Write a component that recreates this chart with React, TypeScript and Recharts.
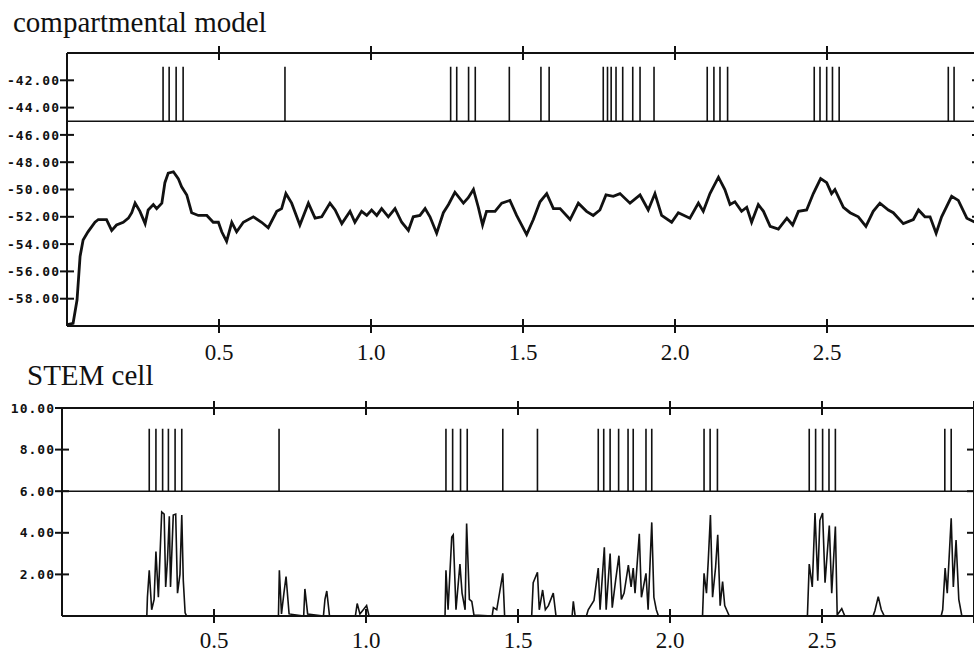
import { LineChart, Line, XAxis, YAxis } from "recharts";

// spike times (s)
const compartmentSpikes = [
  0.316, 0.336, 0.359, 0.382, 0.717, 1.262, 1.282, 1.321, 1.343, 1.455, 1.559, 1.586,
  1.764, 1.778, 1.79, 1.806, 1.828, 1.861, 1.885, 1.931, 2.106, 2.128, 2.148, 2.173,
  2.458, 2.477, 2.499, 2.518, 2.54, 2.899, 2.918,
];
const stemSpikes = [
  0.287, 0.309, 0.331, 0.35, 0.372, 0.394, 0.714, 1.263, 1.285, 1.311, 1.333, 1.45, 1.564,
  1.764, 1.782, 1.803, 1.831, 1.862, 1.879, 1.921, 1.94, 2.112, 2.132, 2.156,
  2.458, 2.479, 2.502, 2.523, 2.544, 2.904, 2.925,
];

// membrane potential, compartmental model (mV)
const compartmentTrace: [number, number][] = [
  [0, -59.9], [0.02, -59.8], [0.033, -58.1], [0.043, -54.9], [0.053, -53.7], [0.069, -53.1],
  [0.092, -52.4], [0.103, -52.2], [0.13, -52.2], [0.147, -53.0], [0.163, -52.6], [0.185, -52.4],
  [0.202, -52.1], [0.213, -51.7], [0.224, -51.0], [0.24, -51.6], [0.257, -52.5], [0.267, -51.5],
  [0.284, -51.1], [0.295, -51.4], [0.312, -51.0], [0.322, -49.5], [0.333, -48.8], [0.35, -48.7],
  [0.366, -49.2], [0.377, -49.8], [0.394, -50.4], [0.41, -51.7], [0.432, -51.9], [0.46, -51.9],
  [0.481, -52.4], [0.498, -52.4], [0.509, -53.1], [0.525, -53.8], [0.542, -52.4], [0.558, -53.1],
  [0.58, -52.4], [0.613, -52.0], [0.64, -52.4], [0.662, -52.8], [0.69, -51.6], [0.706, -51.4],
  [0.72, -50.3], [0.739, -51.0], [0.766, -52.6], [0.794, -51.0], [0.816, -52.1], [0.838, -52.0],
  [0.865, -51.0], [0.882, -51.5], [0.904, -52.5], [0.931, -51.6], [0.947, -52.4], [0.969, -51.6],
  [0.986, -51.9], [1.002, -51.5], [1.019, -51.9], [1.035, -51.4], [1.057, -52.0], [1.079, -51.4],
  [1.101, -52.4], [1.123, -53.0], [1.139, -52.0], [1.161, -51.9], [1.178, -51.4], [1.194, -52.0],
  [1.216, -53.2], [1.238, -51.7], [1.255, -51.1], [1.276, -50.2], [1.304, -51.0], [1.32, -50.6],
  [1.337, -50.0], [1.353, -51.3], [1.367, -52.6], [1.38, -51.6], [1.408, -51.6], [1.43, -51.0],
  [1.457, -50.8], [1.479, -51.9], [1.512, -53.3], [1.534, -52.2], [1.556, -50.9], [1.578, -50.3],
  [1.6, -51.4], [1.622, -51.4], [1.655, -52.2], [1.682, -51.0], [1.709, -51.6], [1.731, -51.9],
  [1.753, -51.5], [1.773, -50.4], [1.797, -50.5], [1.819, -50.3], [1.852, -51.0], [1.885, -50.4],
  [1.912, -51.5], [1.934, -50.3], [1.956, -51.9], [1.989, -52.4], [2.011, -51.7], [2.049, -52.1],
  [2.077, -51.0], [2.093, -51.6], [2.115, -50.3], [2.143, -49.1], [2.164, -50.0], [2.181, -51.1],
  [2.197, -50.9], [2.219, -51.6], [2.236, -51.3], [2.252, -52.4], [2.274, -51.1], [2.291, -51.6],
  [2.313, -52.7], [2.34, -52.9], [2.368, -52.1], [2.387, -52.6], [2.406, -51.6], [2.433, -51.5],
  [2.455, -50.3], [2.479, -49.2], [2.499, -49.5], [2.515, -50.3], [2.526, -50.0], [2.554, -51.3],
  [2.576, -51.7], [2.603, -52.0], [2.628, -52.7], [2.652, -51.6], [2.674, -51.0], [2.702, -51.5],
  [2.718, -51.7], [2.751, -52.5], [2.784, -52.2], [2.801, -51.5], [2.822, -52.0], [2.839, -52.0],
  [2.859, -53.2], [2.877, -52.0], [2.91, -50.5], [2.932, -50.8], [2.96, -52.1], [2.987, -52.4],
];

// STEM cell output
const stemTrace: [number, number][] = [
  [0, 0], [0.279, 0], [0.281, 0.9], [0.287, 2.2], [0.295, 0.3], [0.303, 0.8], [0.309, 3.1],
  [0.317, 0.9], [0.328, 5.0], [0.336, 4.9], [0.341, 1.4], [0.347, 2.7], [0.353, 4.8], [0.357, 1.4],
  [0.366, 4.85], [0.374, 4.9], [0.38, 1.1], [0.388, 2.0], [0.394, 4.85], [0.399, 1.7], [0.405, 0.15],
  [0.41, 0], [0.712, 0], [0.715, 2.2], [0.722, 0.1], [0.73, 1.1], [0.737, 1.9], [0.747, 0.1],
  [0.795, 0], [0.799, 1.3], [0.808, 0.1], [0.86, 0], [0.865, 0.8], [0.871, 1.2], [0.88, 0],
  [0.965, 0], [0.971, 0.6], [0.98, 0.1], [1.002, 0.5], [1.01, 0], [1.26, 0], [1.263, 2.2],
  [1.27, 0.3], [1.282, 3.8], [1.287, 3.9], [1.296, 0.3], [1.309, 2.5], [1.316, 1.1], [1.326, 0.3],
  [1.331, 4.45], [1.34, 0.8], [1.348, 0.7], [1.355, 0.05], [1.415, 0], [1.419, 0.4], [1.43, 0.3],
  [1.45, 2.05], [1.456, 0], [1.545, 0], [1.55, 1.6], [1.564, 2.1], [1.57, 0.3], [1.581, 1.25],
  [1.59, 0.3], [1.6, 0.5], [1.616, 1.1], [1.625, 0], [1.678, 0], [1.682, 0.7], [1.688, 0],
  [1.725, 0], [1.731, 0.3], [1.75, 0.75], [1.764, 2.3], [1.77, 0.3], [1.784, 3.3], [1.79, 0.3],
  [1.803, 3.0], [1.81, 0.4], [1.821, 1.7], [1.832, 2.9], [1.84, 0.8], [1.849, 1.1], [1.863, 2.45],
  [1.872, 1.4], [1.879, 2.3], [1.885, 1.1], [1.899, 3.95], [1.906, 0.9], [1.921, 2.05], [1.928, 0.3],
  [1.94, 4.5], [1.947, 0.9], [1.955, 0.3], [1.962, 0], [2.107, 0], [2.112, 2.05], [2.12, 1.1],
  [2.126, 2.7], [2.133, 4.85], [2.14, 0.9], [2.15, 2.35], [2.157, 3.9], [2.165, 0.5], [2.173, 1.65],
  [2.18, 0.5], [2.195, 0], [2.452, 0], [2.458, 2.5], [2.468, 1.4], [2.477, 4.95], [2.486, 1.7],
  [2.493, 4.6], [2.502, 4.95], [2.51, 1.6], [2.524, 4.35], [2.532, 1.1], [2.544, 4.3], [2.55, 0.05],
  [2.565, 0.35], [2.575, 0], [2.668, 0], [2.674, 0.25], [2.685, 0.93], [2.695, 0.3], [2.705, 0],
  [2.892, 0], [2.897, 0.3], [2.905, 2.3], [2.912, 1.1], [2.925, 4.7], [2.932, 1.4], [2.941, 3.65],
  [2.95, 0.8], [2.96, 0], [3, 0],
];

const timeTicks = [0.5, 1.0, 1.5, 2.0, 2.5, 3.0];
const compartmentYTicks = [-42, -44, -46, -48, -50, -52, -54, -56, -58];
const stemYTicks = [10, 8, 6, 4, 2];

const INK = "#111";

// raster: baseline with a vertical stroke per spike
const raster = (times: number[], base: number, top: number) => {
  const pts = [{ t: 0, v: base }];
  times.forEach((t) => {
    pts.push({ t, v: base }, { t, v: top }, { t, v: base });
  });
  pts.push({ t: 3, v: base });
  return pts;
};
const toRows = (pairs: [number, number][]) => pairs.map(([t, v]) => ({ t, v }));

// tick mark crossing the axis; 3.0 label falls past the page edge
const XTick = ({ x, y, payload, label }: any) => (
  <g>
    <line x1={x} x2={x} y1={y - 7} y2={y + 7} stroke={INK} strokeWidth={2} />
    {label > 0 && payload.value < 3 && (
      <text x={x} y={y + label} textAnchor="middle" fill={INK}
        style={{ fontFamily: "'Liberation Serif', serif", fontSize: 23 }}>
        {payload.value.toFixed(1)}
      </text>
    )}
  </g>
);

const YTick = ({ x, y, payload, showLabel }: any) => (
  <g>
    <line x1={x - 7} x2={x + 7} y1={y} y2={y} stroke={INK} strokeWidth={2} />
    {showLabel && (
      <text x={x - 7} y={y} dy="0.36em" textAnchor="end" fill={INK}
        style={{ fontFamily: "'DejaVu Sans Mono', monospace", fontSize: 13, fontWeight: 700, letterSpacing: 1 }}>
        {payload.value.toFixed(2)}
      </text>
    )}
  </g>
);

const axisLine = { stroke: INK, strokeWidth: 2 };

const Panel = ({ yDomain, yTicks, leftW, rightW, height, marginTop, bottomH, labelOffset, series }: any) => (
  <LineChart width={1000} height={height} margin={{ top: marginTop, right: 0, bottom: 0, left: 0 }}>
    <XAxis xAxisId="b" dataKey="t" type="number" domain={[0, 3]} ticks={timeTicks} allowDataOverflow
      height={bottomH} tickSize={0} tickMargin={0} axisLine={axisLine} tickLine={false}
      tick={<XTick label={labelOffset} />} />
    <XAxis xAxisId="t" orientation="top" dataKey="t" type="number" domain={[0, 3]} ticks={timeTicks}
      allowDataOverflow height={10} tickSize={0} tickMargin={0} axisLine={axisLine} tickLine={false}
      tick={<XTick label={0} />} />
    <YAxis yAxisId="l" type="number" domain={yDomain} ticks={yTicks} width={leftW} allowDataOverflow
      tickSize={0} tickMargin={0} axisLine={axisLine} tickLine={false} tick={<YTick showLabel />} />
    <YAxis yAxisId="r" orientation="right" type="number" domain={yDomain} ticks={yTicks} width={rightW}
      allowDataOverflow tickSize={0} tickMargin={0} axisLine={axisLine} tickLine={false}
      tick={<YTick showLabel={false} />} />
    {series.map((s: any, i: number) => (
      <Line key={i} xAxisId="b" yAxisId="l" data={s.data} dataKey="v" type="linear" stroke={INK}
        strokeWidth={s.w} dot={false} activeDot={false} isAnimationActive={false} />
    ))}
  </LineChart>
);

const titleStyle = {
  position: "absolute" as const,
  fontFamily: "'Liberation Serif', serif",
  fontSize: 29,
  lineHeight: "29px",
  color: INK,
  whiteSpace: "nowrap" as const,
};

export default function App() {
  return (
    <div style={{ position: "absolute", left: 0, top: 0, width: 974, height: 655, overflow: "hidden", background: "#fff" }}>
      <div style={{ ...titleStyle, left: 13, top: 8 }}>compartmental model</div>
      <div style={{ position: "absolute", left: 0, top: 0 }}>
        <Panel yDomain={[-60, -40]} yTicks={compartmentYTicks} leftW={67} rightW={21} height={380}
          marginTop={43} bottomH={54} labelOffset={34}
          series={[
            { data: raster(compartmentSpikes, -45, -41), w: 1.6 },
            { data: toRows(compartmentTrace), w: 2.8 },
          ]} />
      </div>
      <div style={{ ...titleStyle, left: 27, top: 361 }}>STEM cell</div>
      <div style={{ position: "absolute", left: 0, top: 370 }}>
        <Panel yDomain={[0, 10]} yTicks={stemYTicks} leftW={62} rightW={26} height={285}
          marginTop={28} bottomH={39} labelOffset={32}
          series={[
            { data: raster(stemSpikes, 6, 9), w: 1.6 },
            { data: toRows(stemTrace), w: 1.6 },
          ]} />
      </div>
    </div>
  );
}
